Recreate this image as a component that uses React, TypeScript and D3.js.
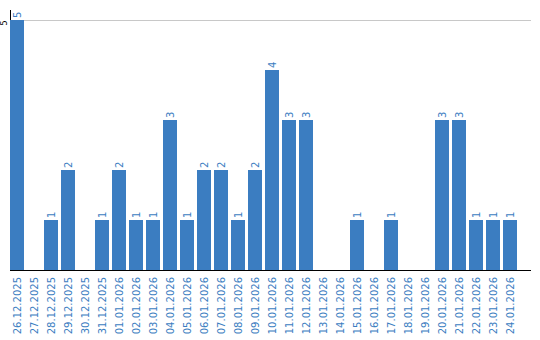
import React from "react";
import * as d3 from "d3";

const categories = [
  "26.12.2025", "27.12.2025", "28.12.2025", "29.12.2025", "30.12.2025", "31.12.2025",
  "01.01.2026", "02.01.2026", "03.01.2026", "04.01.2026", "05.01.2026", "06.01.2026",
  "07.01.2026", "08.01.2026", "09.01.2026", "10.01.2026", "11.01.2026", "12.01.2026",
  "13.01.2026", "14.01.2026", "15.01.2026", "16.01.2026", "17.01.2026", "18.01.2026",
  "19.01.2026", "20.01.2026", "21.01.2026", "22.01.2026", "23.01.2026", "24.01.2026",
];
const values = [5, 0, 1, 2, 0, 1, 2, 1, 1, 3, 1, 2, 2, 1, 2, 4, 3, 3, 0, 0, 1, 0, 1, 0, 0, 3, 3, 1, 1, 1];
const yTicks = [5];

const W = 540;
const H = 340;
const BLUE = "#3b7dc1";
const FONT = "DejaVu Sans, Verdana, sans-serif";

export default function App() {
  const x = d3
    .scaleBand<string>()
    .domain(categories)
    .range([10, 530])
    .paddingInner(3 / 17)
    .paddingOuter(0.3824)
    .align(0);
  const y = d3.scaleLinear().domain([0, 5]).range([270, 20]);
  const bw = x.bandwidth();

  return (
    <svg
      width={W}
      height={H}
      style={{ position: "absolute", left: 0, top: 0, display: "block" }}
      fontFamily={FONT}
    >
      <rect width={W} height={H} fill="#fff" />
      {yTicks.map((t) => (
        <g key={t}>
          <line x1={10} x2={531} y1={y(t) + 0.5} y2={y(t) + 0.5} stroke="#c8c8c8" strokeWidth={1} />
          <text
            transform={`translate(7,${y(t) + 3}) rotate(-90)`}
            fontSize={8}
            textAnchor="middle"
            fill="#000"
          >
            {t}
          </text>
        </g>
      ))}
      <line x1={10.5} x2={10.5} y1={10} y2={270} stroke="#000" strokeWidth={1} />
      {categories.map((c, i) => {
        const v = values[i];
        const x0 = x(c) as number;
        const cx = x0 + bw / 2;
        return (
          <g key={c}>
            {v > 0 && (
              <rect x={x0} y={y(v)} width={bw} height={y(0) - y(v)} fill={BLUE} />
            )}
            {v > 0 && (
              <text
                transform={`translate(${cx + 4},${y(v) - 2}) rotate(-90)`}
                fontSize={10}
                textAnchor="start"
                fill={BLUE}
              >
                {v}
              </text>
            )}
            <text
              transform={`translate(${cx + 4.5},277) rotate(-90)`}
              fontSize={10}
              textAnchor="end"
              fill={BLUE}
            >
              {c}
            </text>
          </g>
        );
      })}
      <line x1={10} x2={531} y1={270.5} y2={270.5} stroke="#000" strokeWidth={1} />
    </svg>
  );
}
